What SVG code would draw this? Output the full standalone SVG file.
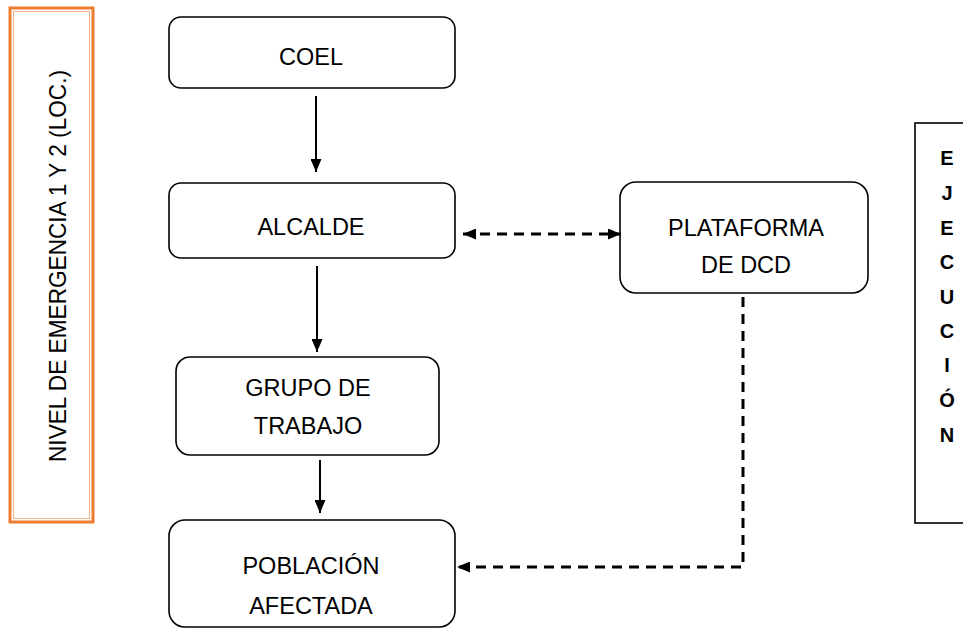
<svg xmlns="http://www.w3.org/2000/svg" width="963" height="629" viewBox="0 0 963 629">
<style>
.box{fill:#fff;stroke:#000;stroke-width:1.6}
.t{font-family:"Liberation Sans",Arial,sans-serif;font-size:23.5px;fill:#000;text-anchor:middle}
.b{font-family:"Liberation Sans",Arial,sans-serif;font-size:20px;font-weight:bold;fill:#000;text-anchor:middle}
.solid{stroke:#000;stroke-width:2;fill:none}
.dash{stroke:#000;stroke-width:3;fill:none;stroke-dasharray:10 7}
</style>
<defs>
<marker id="ah" markerWidth="13" markerHeight="11" refX="13" refY="5.5" orient="auto" markerUnits="userSpaceOnUse">
<path d="M0,0 L13,5.5 L0,11 Z" fill="#000"/>
</marker>
<marker id="ahs" markerWidth="13" markerHeight="11" refX="0" refY="5.5" orient="auto" markerUnits="userSpaceOnUse">
<path d="M13,0 L0,5.5 L13,11 Z" fill="#000"/>
</marker>
</defs>
<rect width="963" height="629" fill="#fff"/>
<g id="nivel">
<rect x="10" y="8" width="83" height="514" fill="#fff" stroke="#ED7D31" stroke-width="3"/>
<rect x="13.5" y="11.5" width="76" height="507" fill="none" stroke="#F4B183" stroke-width="1"/>
<text class="t" transform="translate(66,266) rotate(-90)" style="font-size:24px" textLength="392" lengthAdjust="spacingAndGlyphs">NIVEL DE EMERGENCIA 1 Y 2 (LOC.)</text>
</g>
<g id="coel">
<rect class="box" x="169" y="17" width="286" height="71" rx="12"/>
<text class="t" x="311" y="65">COEL</text>
</g>
<g id="alcalde">
<rect class="box" x="169" y="183" width="286" height="75" rx="12"/>
<text class="t" x="311" y="235">ALCALDE</text>
</g>
<g id="plataforma">
<rect class="box" x="620" y="182" width="248" height="111" rx="16"/>
<text class="t" x="746" y="236">PLATAFORMA</text>
<text class="t" x="746" y="273">DE DCD</text>
</g>
<g id="grupo">
<rect class="box" x="176" y="357" width="263" height="98" rx="14"/>
<text class="t" x="308" y="396">GRUPO DE</text>
<text class="t" x="308" y="434">TRABAJO</text>
</g>
<g id="poblacion">
<rect class="box" x="169" y="520" width="286" height="107" rx="16"/>
<text class="t" x="311" y="574">POBLACIÓN</text>
<text class="t" x="311" y="614">AFECTADA</text>
</g>
<g id="ejecucion">
<rect x="915" y="123" width="60" height="400" fill="#fff" stroke="#000" stroke-width="1.6"/>
<text class="b" x="947" y="165">E</text>
<text class="b" x="947" y="200">J</text>
<text class="b" x="947" y="235">E</text>
<text class="b" x="947" y="269">C</text>
<text class="b" x="947" y="304">U</text>
<text class="b" x="947" y="338">C</text>
<text class="b" x="947" y="372">I</text>
<text class="b" x="947" y="407">Ó</text>
<text class="b" x="947" y="442">N</text>
</g>
<g id="connectors">
<line class="solid" x1="316" y1="96" x2="316" y2="172" marker-end="url(#ah)"/>
<line class="solid" x1="317" y1="266" x2="317" y2="352" marker-end="url(#ah)"/>
<line class="solid" x1="320" y1="460" x2="320" y2="513" marker-end="url(#ah)"/>
<line class="dash" x1="463" y1="234" x2="621" y2="234" marker-start="url(#ahs)" marker-end="url(#ah)"/>
<polyline class="dash" points="743,297 743,567 457,567" marker-end="url(#ah)"/>
</g>
</svg>
